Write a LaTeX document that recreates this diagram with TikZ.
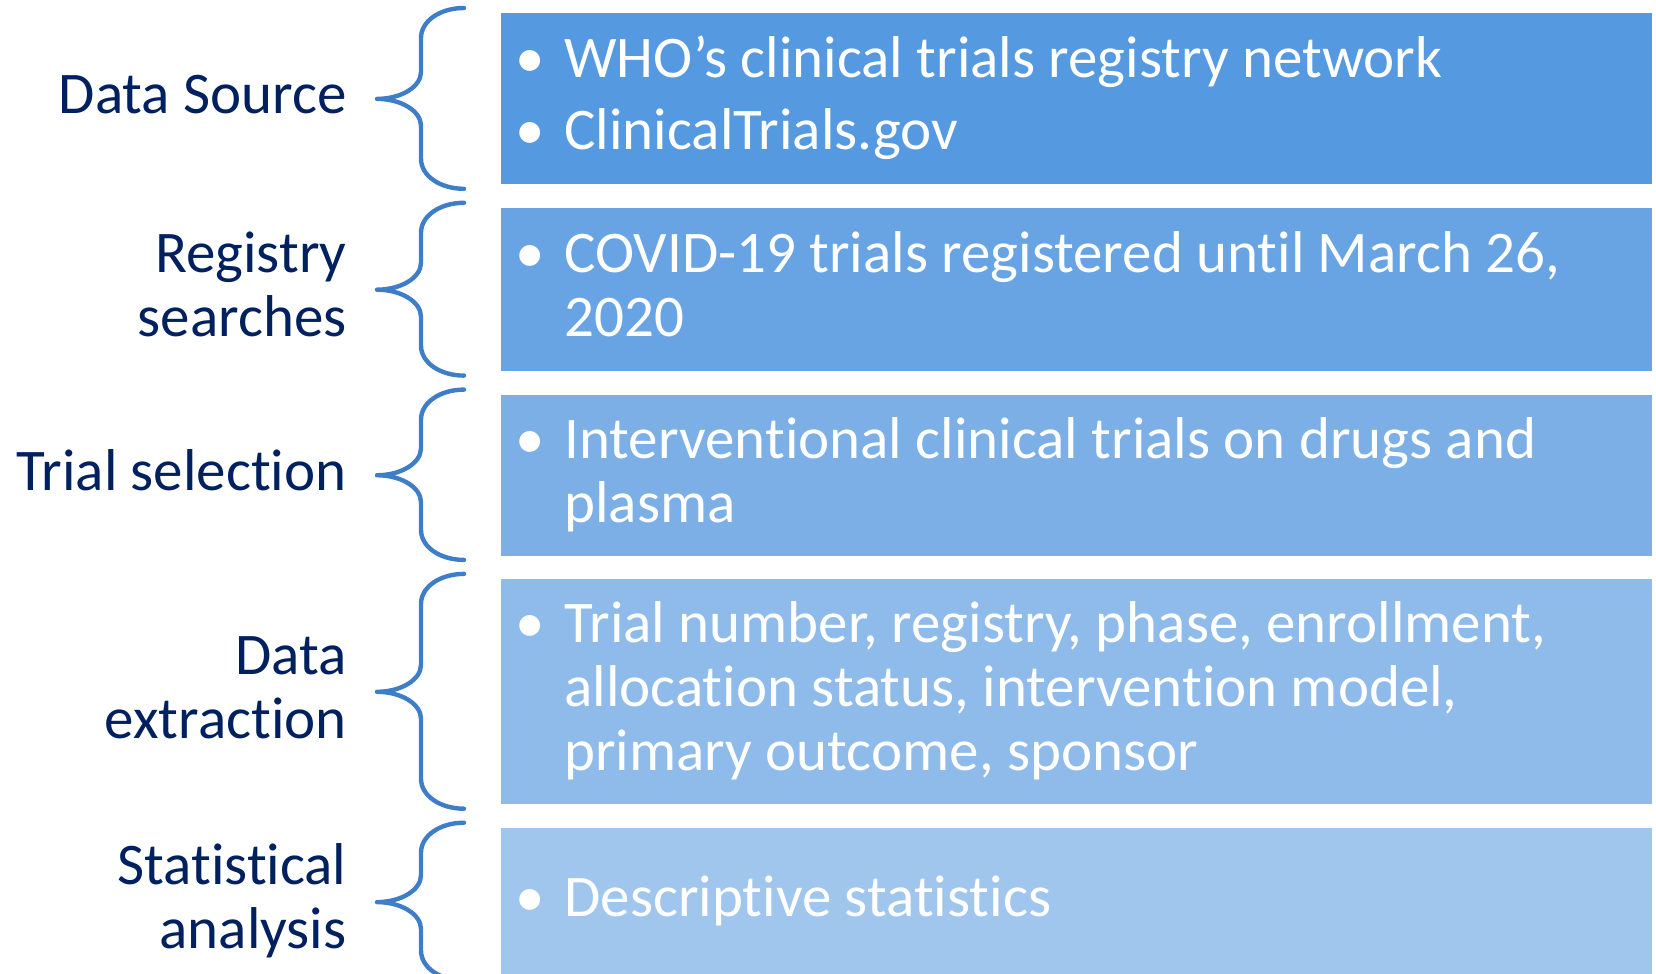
\documentclass[tikz,border=0pt]{standalone}
\usepackage{fontspec}
\setmainfont{Carlito}[Ligatures={NoCommon}]
\usetikzlibrary{positioning,calc}

\definecolor{navy}{RGB}{0,32,96}
\definecolor{bracecol}{RGB}{62,126,200}
\definecolor{fillA}{RGB}{85,153,224}
\definecolor{fillB}{RGB}{104,164,227}
\definecolor{fillC}{RGB}{123,175,230}
\definecolor{fillD}{RGB}{142,187,234}
\definecolor{fillE}{RGB}{161,198,237}

\newcommand{\tstrut}{\rule[-0.25em]{0pt}{1em}}
\newcommand{\bul}{\tstrut\makebox[24.5pt][l]{•}}
\newcommand{\contline}{\tstrut\hspace*{24.5pt}}

\begin{document}
\begin{tikzpicture}[
  x=0.5pt, y=-0.5pt,
  stepbox/.style={rectangle, text=white, inner xsep=7pt, inner ysep=0pt,
                  text width=561.5pt, align=left,
                  font=\fontsize{29.5}{32}\selectfont,
                  execute at begin node={\spaceskip=0pt\xspaceskip=0pt}},
  lbl/.style={text=navy, align=right, inner sep=0pt,
              font=\fontsize{29.5}{32}\selectfont},
  curly/.style={draw=bracecol, line width=2.2pt, line cap=round, line join=round},
  node distance=11.5pt
]
  \useasboundingbox (0,0) rectangle (1656,974);

  \node[stepbox, fill=fillA, minimum height=85.5pt, anchor=north west] (src) at (501,13)
    {\bul WHO’s clinical trials registry network\\[4pt]\bul ClinicalTrials.gov};
  \node[stepbox, fill=fillB, minimum height=81.5pt, below=of src] (reg)
    {\bul COVID-19 trials registered until March 26,\\\contline 2020};
  \node[stepbox, fill=fillC, minimum height=80.25pt, below=of reg] (sel)
    {\bul Interventional clinical trials on drugs and\\\contline plasma};
  \node[stepbox, fill=fillD, minimum height=112.5pt, below=of sel] (ext)
    {\bul Trial number, registry, phase, enrollment,\\\contline allocation status, intervention model,\\\contline primary outcome, sponsor};
  \node[stepbox, fill=fillE, minimum height=74pt, below=of ext] (ana)
    {\bul Descriptive statistics};

  \foreach \b in {src,reg,sel,ext,ana} {
    \draw[curly] ([shift={(-37,-5)}]\b.north west)
      .. controls ([shift={(-61,-5)}]\b.north west) and ([shift={(-80,8)}]\b.north west)
      .. ([shift={(-80,25)}]\b.north west)
      -- ([shift={(-80,-27)}]\b.west)
      .. controls ([shift={(-80,-12)}]\b.west) and ([shift={(-100,0)}]\b.west)
      .. ([shift={(-124,0)}]\b.west) coordinate (\b-tip)
      .. controls ([shift={(-100,0)}]\b.west) and ([shift={(-80,12)}]\b.west)
      .. ([shift={(-80,27)}]\b.west)
      -- ([shift={(-80,-26)}]\b.south west)
      .. controls ([shift={(-80,-9)}]\b.south west) and ([shift={(-61,4)}]\b.south west)
      .. ([shift={(-37,4)}]\b.south west);
  }

  \node[lbl, left=15pt of src-tip] (lsrc) {\tstrut Data Source};
  \node[lbl, left=15pt of reg-tip] (lreg) {\tstrut Registry\\\tstrut searches};
  \node[lbl, left=15pt of sel-tip] (lsel) {\tstrut Trial selection};
  \node[lbl, left=15pt of ext-tip] (lext) {\tstrut Data\\\tstrut extraction};
  \node[lbl, left=15pt of ana-tip] (lana) {\tstrut Statistical\\\tstrut analysis};
\end{tikzpicture}
\end{document}
